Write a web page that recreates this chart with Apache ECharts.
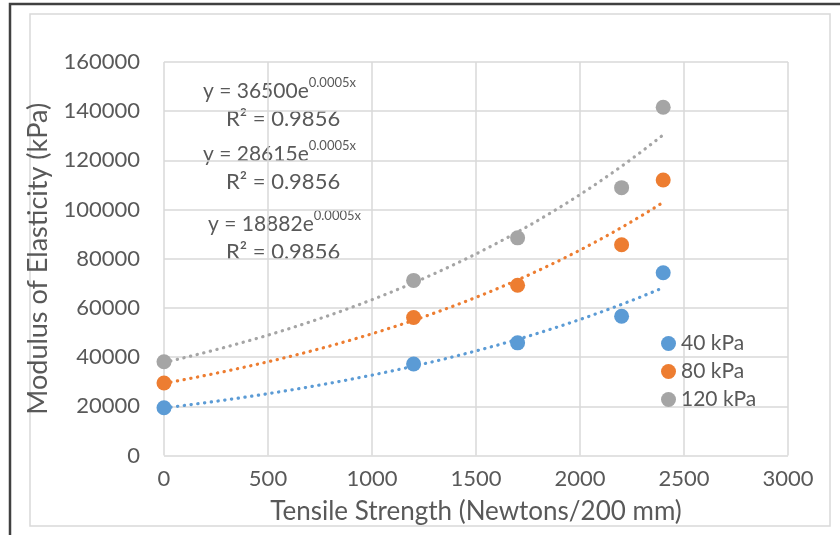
<!DOCTYPE html>
<html>
<head>
<meta charset="utf-8">
<script src="https://cdn.jsdelivr.net/npm/echarts@6/dist/echarts.min.js"></script>
<style>
  html, body { margin: 0; padding: 0; background: #fff; }
  #chart { width: 840px; height: 535px; }
</style>
</head>
<body>
<div id="chart"></div>
<script>
var tensile = [0, 1200, 1700, 2200, 2400];
var kpa40 = [19400, 37200, 45800, 56600, 74300];
var kpa80 = [29500, 56100, 69200, 85700, 112000];
var kpa120 = [38100, 71200, 88500, 108900, 141600];
var seriesNames = ['40 kPa', '80 kPa', '120 kPa'];
var eqCoef = ['36500', '28615', '18882'];
var eqR2 = '0.9856';

var colors = ['#5B9BD5', '#ED7D31', '#A5A5A5'];
var txt = '#595959';
var font = 'Lato, "Open Sans", sans-serif';

var chartDom = document.getElementById('chart');
var myChart = echarts.init(chartDom);

function pairs(ys) {
  return tensile.map(function (x, i) { return [x, ys[i]]; });
}

// exponential trendline (least squares on ln y), like Excel's trendline
function expTrend(ys) {
  var n = tensile.length, mx = 0, my = 0;
  for (var i = 0; i < n; i++) { mx += tensile[i]; my += Math.log(ys[i]); }
  mx /= n; my /= n;
  var sxy = 0, sxx = 0;
  for (var j = 0; j < n; j++) {
    sxy += (tensile[j] - mx) * (Math.log(ys[j]) - my);
    sxx += (tensile[j] - mx) * (tensile[j] - mx);
  }
  var b = sxy / sxx, a = Math.exp(my - b * mx);
  var out = [];
  for (var x = tensile[0]; x <= tensile[n - 1]; x += 50) {
    out.push([x, a * Math.exp(b * x)]);
  }
  return out;
}

var allData = [kpa40, kpa80, kpa120];
var series = [];
allData.forEach(function (ys, i) {
  series.push({
    name: seriesNames[i] + ' trend',
    type: 'line',
    data: expTrend(ys),
    showSymbol: false,
    silent: true,
    lineStyle: { color: colors[i], width: 3.2, type: [0.3, 6.5], cap: 'round' },
    z: 2
  });
});
allData.forEach(function (ys, i) {
  series.push({
    name: seriesNames[i],
    type: 'scatter',
    data: pairs(ys),
    symbol: 'circle',
    symbolSize: 15,
    itemStyle: { color: colors[i], opacity: 1 },
    z: 3
  });
});

var eqY = [90, 153, 223];
var graphics = [
  { type: 'rect', shape: { x: 10, y: 4, width: 900, height: 600 }, style: { fill: 'none', stroke: '#404040', lineWidth: 2.5 }, silent: true },
  { type: 'rect', shape: { x: 30, y: 14, width: 800, height: 512 }, style: { fill: 'none', stroke: '#d9d9d9', lineWidth: 1.5 }, silent: true }
];
eqCoef.forEach(function (c, i) {
  graphics.push({
    type: 'text',
    left: 203 + (i === 2 ? 5 : 0),
    top: eqY[i] - 14,
    style: {
      text: '{m|y = ' + c + 'e}{s|0.0005x}',
      rich: {
        m: { fontSize: 21, fontFamily: font, fill: txt, verticalAlign: 'bottom', lineHeight: 26 },
        s: { fontSize: 13, fontFamily: font, fill: txt, verticalAlign: 'top', lineHeight: 26, padding: [0, 0, 12, 0] }
      }
    }
  });
  graphics.push({
    type: 'text',
    left: 226,
    top: eqY[i] + 18,
    style: { text: 'R² = ' + eqR2, fontSize: 22, fontFamily: font, fill: txt }
  });
});

var option = {
  backgroundColor: '#ffffff',
  textStyle: { fontFamily: font },
  animation: false,
  grid: { left: 164, right: 52, top: 62, bottom: 79.5 },
  legend: {
    data: seriesNames,
    orient: 'vertical',
    left: 656,
    top: 328,
    icon: 'circle',
    itemWidth: 15,
    itemHeight: 15,
    itemGap: 7,
    textStyle: { fontSize: 21, color: txt, fontFamily: font }
  },
  xAxis: {
    type: 'value',
    min: 0,
    max: 3000,
    interval: 500,
    name: 'Tensile Strength (Newtons/200 mm)',
    nameLocation: 'middle',
    nameGap: 43,
    nameTextStyle: { fontSize: 26, color: txt, fontFamily: font },
    axisLine: { show: false },
    axisTick: { show: false },
    axisLabel: { fontSize: 22, color: txt, margin: 12, fontFamily: font, formatter: function (v) { return String(v); } },
    splitLine: { show: true, lineStyle: { color: '#d9d9d9', width: 1.5 } }
  },
  yAxis: {
    type: 'value',
    min: 0,
    max: 160000,
    interval: 20000,
    name: 'Modulus of Elasticity (kPa)',
    nameLocation: 'middle',
    nameGap: 112,
    nameTextStyle: { fontSize: 27, color: txt, fontFamily: font },
    axisLine: { show: false },
    axisTick: { show: false },
    axisLabel: { fontSize: 22, color: txt, margin: 24, fontFamily: font, formatter: function (v) { return String(v); } },
    splitLine: { show: true, lineStyle: { color: '#d9d9d9', width: 1.5 } }
  },
  graphic: graphics,
  series: series
};

option && myChart.setOption(option);
</script>
</body>
</html>
